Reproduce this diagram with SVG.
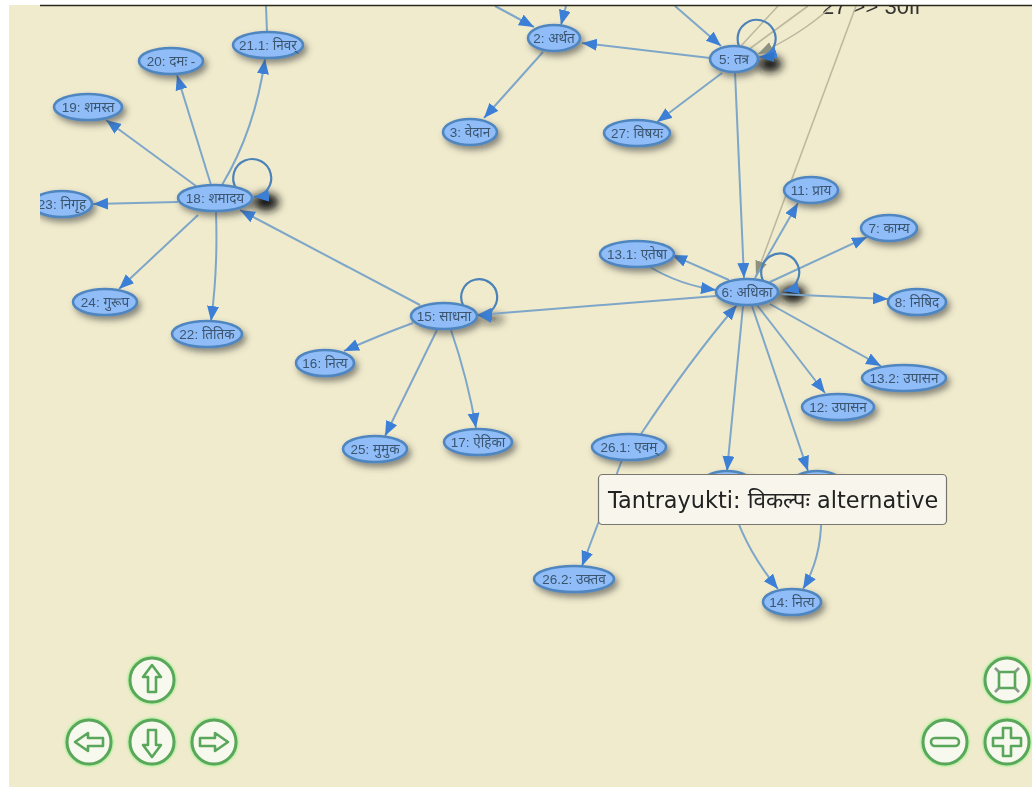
<svg xmlns="http://www.w3.org/2000/svg" width="1032" height="787" viewBox="0 0 1032 787">
<style>
.e{fill:none;stroke:#7ea6c8;stroke-width:2}
.a{marker-end:url(#ah)}
.g{fill:none;stroke:#bdb9a0;stroke-width:1.6}
.l{fill:none;stroke:#4c82b8;stroke-width:2.2}
.n ellipse{fill:#90bdf7;stroke:#4f86c0;stroke-width:2.6;filter:url(#ds)}
.n text{font-family:"Liberation Sans","Noto Sans Devanagari","Noto Sans",sans-serif;font-size:13.5px;fill:#3a5570;text-anchor:middle}
.b circle{fill:#f7f9ee;stroke:#5aa65a;stroke-width:3}
.b path,.b rect.i{fill:none;stroke:#5aa65a;stroke-width:2.6;stroke-linejoin:round}
.b{filter:url(#glow)}
.soft{filter:url(#soft)}
</style>
<defs>
<marker id="ah" markerUnits="userSpaceOnUse" markerWidth="16" markerHeight="13" refX="15" refY="6" orient="auto"><path d="M0,0L15,6L0,12Z" fill="#3b7fd6"/></marker>
<marker id="agr" markerUnits="userSpaceOnUse" markerWidth="16" markerHeight="13" refX="15" refY="6" orient="auto"><path d="M0,0L15,6L0,12Z" fill="#8d9180"/></marker>
<filter id="ds" x="-30%" y="-40%" width="170%" height="210%"><feDropShadow dx="3" dy="4" stdDeviation="3" flood-color="#444" flood-opacity=".6"/></filter>
<filter id="blob" x="-100%" y="-100%" width="300%" height="300%"><feGaussianBlur stdDeviation="4"/></filter>
<filter id="glow" x="-20%" y="-20%" width="140%" height="140%"><feGaussianBlur in="SourceGraphic" stdDeviation="0.5" result="s"/><feDropShadow in="s" dx="0" dy="0" stdDeviation="1.4" flood-color="#5ff05f" flood-opacity="1"/></filter>
<filter id="soft" filterUnits="userSpaceOnUse" x="0" y="0" width="1032" height="787"><feGaussianBlur stdDeviation="0.45"/></filter>
<clipPath id="view"><rect x="40" y="6" width="992" height="781"/></clipPath>
</defs>
<rect width="1032" height="787" fill="#fff"/>
<rect x="9" y="5" width="1023" height="782" fill="#f0ebcd"/>
<g clip-path="url(#view)">
<g class="soft">
<text x="822" y="14" font-family="Liberation Sans, sans-serif" font-size="22" fill="#333">27 &gt;&gt; 30ff</text>
<g id="shadows" fill="#141414">
<ellipse cx="266" cy="202" rx="13" ry="9" filter="url(#blob)"/>
<ellipse cx="793" cy="294" rx="13" ry="9" filter="url(#blob)"/>
<ellipse cx="770" cy="64" rx="12" ry="8" filter="url(#blob)"/>
<ellipse cx="491" cy="319" rx="13" ry="5" filter="url(#blob)" opacity=".55"/>
</g>
<g id="connectors">
<path class="g" d="M740,47L778,6"/>
<path class="g" d="M748,50L808,6"/>
<path class="g" style="marker-end:url(#agr)" d="M830,8Q800,35 758,54"/>
<path class="g" style="marker-end:url(#agr)" d="M856,6L756,276"/>
<path class="e" d="M266,6L267,32"/>
<path class="e a" d="M222,185Q255,130 265,59"/>
<path class="e a" d="M211,185L177,75"/>
<path class="e a" d="M196,186L106,120"/>
<path class="e a" d="M178,202L93,204"/>
<path class="e a" d="M198,215L119,289"/>
<path class="e a" d="M216,212Q218,270 211,321"/>
<path class="e a" d="M420,305L240,210"/>
<path class="e a" d="M716,296L477,315"/>
<path class="e a" d="M413,323Q380,335 344,351"/>
<path class="e a" d="M437,330L385,436"/>
<path class="e a" d="M451,330Q468,380 476,428"/>
<path class="e a" d="M495,6L534,27"/>
<path class="e a" d="M566,6L561,25"/>
<path class="e a" d="M675,6L721,46"/>
<path class="e a" d="M710,58L582,43"/>
<path class="e a" d="M543,52L484,118"/>
<path class="e a" d="M722,73L657,122"/>
<path class="e a" d="M735,72L744,278"/>
<path class="e a" d="M755,278L798,203"/>
<path class="e a" d="M770,282L867,237"/>
<path class="e a" d="M778,294L888,299"/>
<path class="e a" d="M770,304L881,366"/>
<path class="e a" d="M757,305L825,393"/>
<path class="e a" d="M729,280L672,255"/>
<path class="e a" d="M650,267Q680,285 716,290"/>
<path class="e a" d="M641,434Q690,360 737,305"/>
<path class="e a" d="M743,306L727,471"/>
<path class="e a" d="M752,306L808,471"/>
<path class="e a" d="M622,460L582,566"/>
<path class="e a" d="M730,497Q742,545 778,589"/>
<path class="e a" d="M820,497Q826,550 803,589"/>
<path class="l a" d="M236,188A19,19 0 1 1 254,197"/>
<path class="l a" d="M463,305A18,18 0 1 1 477,315"/>
<path class="l a" d="M744,53A19,19 0 1 1 762,57"/>
<path class="l a" d="M766,285A19,19 0 1 1 784,291"/>
<path d="M774,52L758,57L774,62Z" fill="#2f74c8"/>
</g>
<g class="n" id="node-21-1"><ellipse cx="268" cy="45" rx="35" ry="13"/><text x="268" y="49.500">21.1: निवर्</text></g>
<g class="n" id="node-20"><ellipse cx="171" cy="61" rx="32" ry="13"/><text x="171" y="65.500">20: दमः -</text></g>
<g class="n" id="node-19"><ellipse cx="88" cy="107" rx="34" ry="13"/><text x="88" y="111.500">19: शमस्त</text></g>
<g class="n" id="node-18"><ellipse cx="215" cy="198" rx="37" ry="13"/><text x="215" y="202.500">18: शमादय</text></g>
<g class="n" id="node-23"><ellipse cx="62" cy="204" rx="30" ry="13"/><text x="62" y="208.500">23: निगृह</text></g>
<g class="n" id="node-24"><ellipse cx="105" cy="302" rx="32" ry="13"/><text x="105" y="306.500">24: गुरूप</text></g>
<g class="n" id="node-22"><ellipse cx="207" cy="334" rx="35" ry="13"/><text x="207" y="338.500">22: तितिक</text></g>
<g class="n" id="node-15"><ellipse cx="444" cy="316" rx="33" ry="13"/><text x="444" y="320.500">15: साधना</text></g>
<g class="n" id="node-16"><ellipse cx="325" cy="363" rx="29" ry="13"/><text x="325" y="367.500">16: नित्य</text></g>
<g class="n" id="node-25"><ellipse cx="375" cy="449" rx="32" ry="13"/><text x="375" y="453.500">25: मुमुक</text></g>
<g class="n" id="node-17"><ellipse cx="478" cy="442" rx="34" ry="13"/><text x="478" y="446.500">17: ऐहिका</text></g>
<g class="n" id="node-2"><ellipse cx="554" cy="38" rx="26" ry="13"/><text x="554" y="42.500">2: अर्थत</text></g>
<g class="n" id="node-3"><ellipse cx="470" cy="132" rx="27" ry="13"/><text x="470" y="136.500">3: वेदान</text></g>
<g class="n" id="node-5"><ellipse cx="734" cy="59" rx="24" ry="13"/><text x="734" y="63.500">5: तत्र</text></g>
<g class="n" id="node-27"><ellipse cx="637" cy="133" rx="33" ry="13"/><text x="637" y="137.500">27: विषयः</text></g>
<g class="n" id="node-11"><ellipse cx="811" cy="190" rx="27" ry="13"/><text x="811" y="194.500">11: प्राय</text></g>
<g class="n" id="node-7"><ellipse cx="889" cy="228" rx="28" ry="13"/><text x="889" y="232.500">7: काम्य</text></g>
<g class="n" id="node-13-1"><ellipse cx="637" cy="254" rx="37" ry="13"/><text x="637" y="258.500">13.1: एतेषा</text></g>
<g class="n" id="node-6"><ellipse cx="747" cy="292" rx="31" ry="13"/><text x="747" y="296.500">6: अधिका</text></g>
<g class="n" id="node-8"><ellipse cx="917" cy="302" rx="29" ry="13"/><text x="917" y="306.500">8: निषिद</text></g>
<g class="n" id="node-13-2"><ellipse cx="904" cy="378" rx="42" ry="13"/><text x="904" y="382.500">13.2: उपासन</text></g>
<g class="n" id="node-12"><ellipse cx="838" cy="407" rx="36" ry="13"/><text x="838" y="411.500">12: उपासन</text></g>
<g class="n" id="node-26-1"><ellipse cx="629" cy="447" rx="37" ry="13"/><text x="629" y="451.500">26.1: एवम्</text></g>
<g class="n" id="node-26-2"><ellipse cx="574" cy="579" rx="40" ry="13"/><text x="574" y="583.500">26.2: उक्तव</text></g>
<g class="n" id="node-14"><ellipse cx="792" cy="602" rx="29" ry="13"/><text x="792" y="606.500">14: नित्य</text></g>
<g class="n" id="node-h1"><ellipse cx="727" cy="484" rx="26" ry="13"/></g>
<g class="n" id="node-h2"><ellipse cx="817" cy="484" rx="26" ry="13"/></g>
</g>
</g>
<path d="M40,5.500H1032" stroke="#2a2a1c" stroke-width="1.500"/>
<g id="tooltip" class="soft">
<rect x="598.500" y="474.500" width="348" height="50" rx="4" fill="#f8f6ec" stroke="#77776f" stroke-width="1.200"/>
<text x="608" y="508" font-family="DejaVu Sans, Noto Sans, sans-serif" font-size="22.400" fill="#222">Tantrayukti: विकल्पः alternative</text>
</g>
<g id="btn-up" class="b"><circle cx="152" cy="680" r="22"/><path d="M152,665L161,677H156V692H148V677H143Z"/></g>
<g id="btn-left" class="b"><circle cx="89" cy="742" r="22"/><path d="M75,742L88,733V738H103V746H88V751Z"/></g>
<g id="btn-down" class="b"><circle cx="152" cy="742" r="22"/><path d="M152,757L161,745H156V730H148V745H143Z"/></g>
<g id="btn-right" class="b"><circle cx="214" cy="742" r="22"/><path d="M228,742L215,733V738H200V746H215V751Z"/></g>
<g id="btn-fit" class="b"><circle cx="1007" cy="680" r="22"/><rect class="i" x="999" y="672" width="16" height="16"/><path d="M995,668L999,672M1019,668L1015,672M995,692L999,688M1019,692L1015,688" style="stroke:#8a9a8a"/></g>
<g id="btn-minus" class="b"><circle cx="945" cy="742" r="22"/><rect class="i" x="931" y="738" width="28" height="8" rx="4"/></g>
<g id="btn-plus" class="b"><circle cx="1007" cy="742" r="22"/><path d="M1003,728H1011V738H1021V746H1011V756H1003V746H993V738H1003Z"/></g>
</svg>
